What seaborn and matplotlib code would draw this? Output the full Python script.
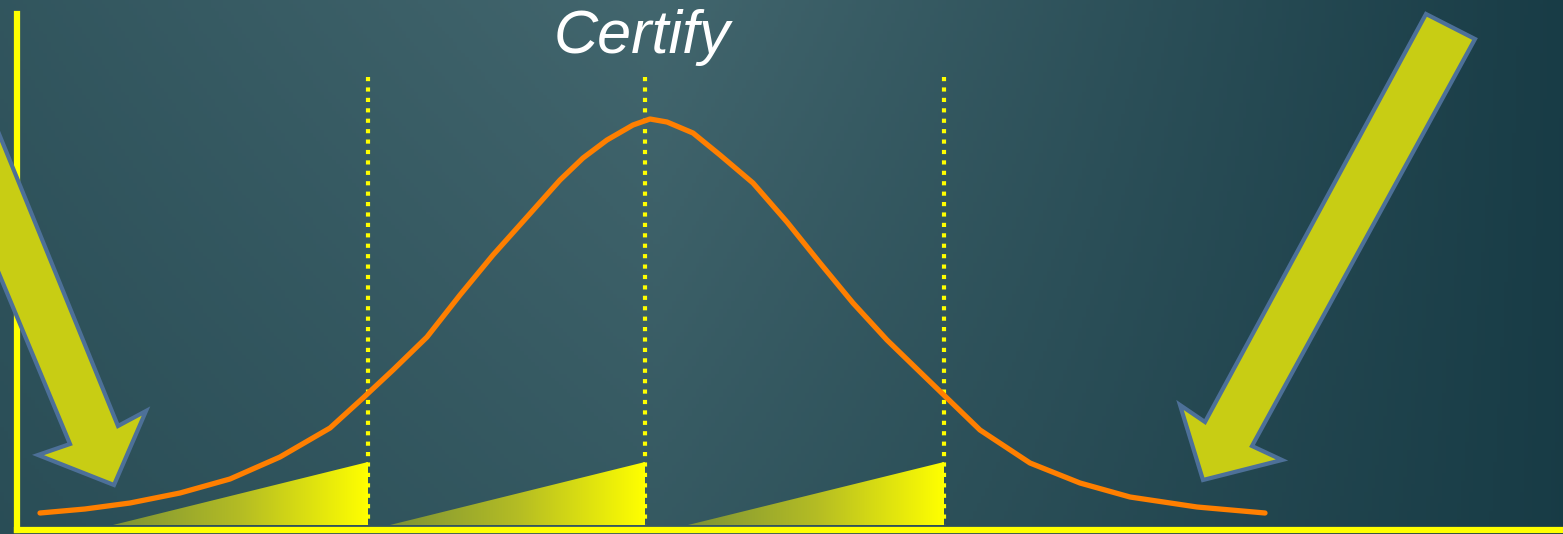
import numpy as np
import pandas as pd
import matplotlib
matplotlib.use("Agg")
import matplotlib.pyplot as plt
from matplotlib.patches import Polygon
import seaborn as sns

curve_x = [40, 85, 130, 180, 230, 280, 330, 363, 393, 427, 460, 493, 527, 560, 583,
           607, 633, 650, 667, 693, 720, 753, 787, 820, 853, 887, 920, 950, 980,
           1030, 1080, 1130, 1197, 1265]
curve_y = [513, 509, 503, 493, 479, 457, 428, 398, 370, 337, 295, 255, 217, 180, 158,
           140, 125, 119, 122, 133, 155, 183, 222, 263, 303, 340, 372, 401, 430,
           463, 483, 497, 507, 513]

# dotted markers and the wedges under them
marker_x = [368, 645, 944]
marker_top = 77
wedge_start = [113, 390, 688]
wedge_top = 462

# arrows (outline points)
left_arrow = [(-5, 124), (118, 426), (146, 411), (114, 485), (38, 455), (70, 444), (-5, 264)]
right_arrow = [(1426, 14), (1475, 39), (1252, 446), (1282, 460), (1203, 480),
               (1180, 405), (1205, 422)]

title = "Certify"

W, H = 1563, 534
base_y = 525

sns.set_theme(style="white")
plt.rcParams["font.family"] = ["Liberation Sans", "DejaVu Sans"]

fig = plt.figure(figsize=(W / 100, H / 100), dpi=100)

# background gradient
bg = fig.add_axes([0, 0, 1, 1], zorder=0)
xx = np.linspace(0, 1, 400)
yy = np.linspace(0, 1, 140)
X, Y = np.meshgrid(xx, yy)
dx = X - 0.42
light = np.where(dx < 0, 1 - np.abs(dx) / 1.1, 1 - dx / 0.6)
light = np.clip(light, 0, 1) * (1 - 0.3 * Y)
dark = np.array([0.09, 0.23, 0.27])
lite = np.array([0.26, 0.40, 0.43])
img = dark[None, None, :] + (lite - dark)[None, None, :] * light[..., None]
bg.imshow(img, aspect="auto", extent=[0, 1, 0, 1], origin="upper")
bg.set_axis_off()

# main axes: left spine at x=17px, bottom spine at y=530px
left_px, bottom_px, top_px = 17, 530, 14
ax = fig.add_axes([left_px / W, (H - bottom_px) / H, (W - left_px) / W, (bottom_px - top_px) / H],
                  zorder=1)
ax.set_facecolor("none")
for side in ["top", "right"]:
    ax.spines[side].set_visible(False)
for side in ["left", "bottom"]:
    ax.spines[side].set_color("#ffff00")
    ax.spines[side].set_linewidth(4.5)
ax.set_xticks([])
ax.set_yticks([])

# gradient wedges
grad = np.linspace(0, 1, 256)[None, :]
cmap = matplotlib.colors.LinearSegmentedColormap.from_list(
    "wedge", ["#7c9236", "#b4bc24", "#ffff00"])
for x0, x1 in zip(wedge_start, marker_x):
    poly = Polygon([(x0, base_y), (x1, base_y), (x1, wedge_top)], closed=True,
                   facecolor="none", edgecolor="none")
    ax.add_patch(poly)
    im = ax.imshow(grad, cmap=cmap, aspect="auto", extent=[x0, x1, base_y, wedge_top],
                   zorder=2)
    im.set_clip_path(poly)

# dotted lines
for x in marker_x:
    ax.plot([x, x], [marker_top, base_y], color="#ffff00", lw=3,
            linestyle=(0, (1, 1.5)), dash_capstyle="butt", zorder=3)

# bell curve
df = pd.DataFrame({"x": curve_x, "y": curve_y})
sns.lineplot(data=df, x="x", y="y", sort=False, estimator=None, color="#ff7f00",
             lw=3.8, ax=ax, zorder=4)
ax.set_xlabel("")
ax.set_ylabel("")

# arrows
for pts in [left_arrow, right_arrow]:
    ax.add_patch(Polygon(pts, closed=True, facecolor="#c8cd14", edgecolor="#4d7098",
                         lw=3, zorder=5, clip_on=False))

ax.set_xlim(left_px, W)
ax.set_ylim(bottom_px, top_px)

fig.text(642 / W, 1 - 38 / H, title, color="white", fontsize=44, style="italic",
         ha="center", va="center", zorder=6)

fig.savefig("out.png", dpi=100)
